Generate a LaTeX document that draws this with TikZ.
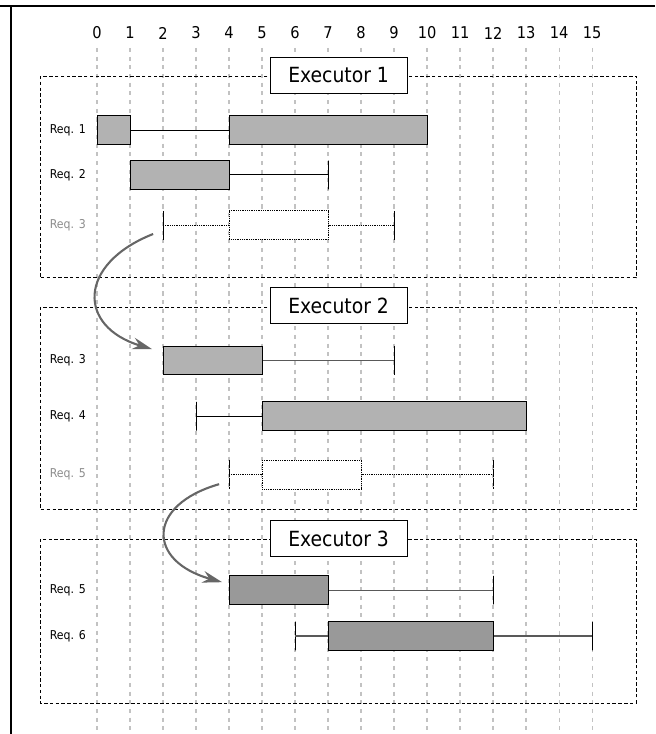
\documentclass[tikz,border=0pt]{standalone}
\usepackage{fontspec}
\setmainfont{DejaVu Sans Condensed}
\usetikzlibrary{arrows.meta}

\definecolor{barfill}{gray}{0.7}
\definecolor{barfilldark}{gray}{0.6}
\definecolor{gridgray}{gray}{0.76}
\definecolor{ghostgray}{gray}{0.55}
\definecolor{movegray}{gray}{0.4}

\begin{document}
\begin{tikzpicture}[x=1cm, y=-1cm,
gridline/.style={gridgray, line width=1pt, dash pattern=on 3.5pt off 4pt},
timelabel/.style={font=\fontsize{14}{16}\selectfont, inner sep=1pt},
execbox/.style={draw, line width=0.7pt, densely dashed},
execlabel/.style={draw, line width=0.7pt, fill=white, minimum width=4.15cm, minimum height=1.1cm, font=\fontsize{18}{20}\selectfont},
req/.style={anchor=east, font=\fontsize{10.5}{12}\selectfont, inner sep=1pt},
bar/.style={draw, line width=0.9pt, fill=barfill, anchor=west, minimum height=0.87cm, inner sep=0pt},
bardark/.style={bar, fill=barfilldark},
stop/.style={draw, line width=0.9pt, minimum width=0pt, minimum height=0.87cm, inner sep=0pt},
whisker/.style={line width=0.9pt},
ghost/.style={line width=0.55pt, densely dotted, fill=white},
move/.style={movegray, line width=1.8pt, -{Stealth[length=6mm, width=3.6mm, inset=2mm]}}
]
\useasboundingbox (-2.94,0) rectangle (16.91,22.24);

% frame
\draw[line width=2pt] (-2.94,0.18) -- (16.91,0.18);
\draw[line width=1.2pt] (-2.61,0.18) -- (-2.61,22.24);

% time grid
\foreach \t in {0,...,15} {
  \draw[gridline] (\t,1.45) -- (\t,22.12);
  \node[timelabel] (t\t) at (\t,1.0) {\t};
}

% executors
\draw[execbox] (-1.73,2.30) rectangle (16.33,8.42);
\draw[execbox] (-1.73,9.30) rectangle (16.33,15.42);
\draw[execbox] (-1.73,16.33) rectangle (16.33,21.30);
\node[execlabel] (ex1) at (7.32,2.28) {Executor 1};
\node[execlabel] (ex2) at (7.32,9.26) {Executor 2};
\node[execlabel] (ex3) at (7.32,16.32) {Executor 3};

% executor 1
\node[req] (a1) at (-0.3,3.94) {Req. 1};
\node[bar, minimum width=1cm] (a1x) at (0,3.94) {};
\node[bar, minimum width=6cm] (a1y) at (4,3.94) {};
\draw[whisker] (a1x.east) -- (a1y.west);

\node[req] (a2) at (-0.3,5.30) {Req. 2};
\node[bar, minimum width=3cm] (a2x) at (1,5.30) {};
\node[stop] (a2e) at (7,5.30) {};
\draw[whisker] (a2x.east) -- (a2e.center);

\node[req, ghostgray] (a3) at (-0.3,6.82) {Req. 3};
\node[stop, ghost] (a3s) at (2,6.82) {};
\node[bar, ghost, minimum width=3cm] (a3x) at (4,6.82) {};
\node[stop, ghost] (a3e) at (9,6.82) {};
\draw[whisker, ghost] (a3s.center) -- (a3x.west);
\draw[whisker, ghost] (a3x.east) -- (a3e.center);

% executor 2
\node[req] (b3) at (-0.3,10.92) {Req. 3};
\node[bar, minimum width=3cm] (b3x) at (2,10.92) {};
\node[stop] (b3e) at (9,10.92) {};
\draw[whisker, black!65] (b3x.east) -- (b3e.center);

\node[req] (b4) at (-0.3,12.61) {Req. 4};
\node[stop] (b4s) at (3,12.61) {};
\node[bar, minimum width=8cm] (b4x) at (5,12.61) {};
\draw[whisker] (b4s.center) -- (b4x.west);

\node[req, ghostgray] (b5) at (-0.3,14.38) {Req. 5};
\node[stop, ghost] (b5s) at (4,14.38) {};
\node[bar, ghost, minimum width=3cm] (b5x) at (5,14.38) {};
\node[stop, ghost] (b5e) at (12,14.38) {};
\draw[whisker, ghost] (b5s.center) -- (b5x.west);
\draw[whisker, ghost] (b5x.east) -- (b5e.center);

% executor 3
\node[req] (c5) at (-0.3,17.88) {Req. 5};
\node[bardark, minimum width=3cm] (c5x) at (4,17.88) {};
\node[stop] (c5e) at (12,17.88) {};
\draw[whisker, black!65] (c5x.east) -- (c5e.center);

\node[req] (c6) at (-0.3,19.27) {Req. 6};
\node[stop] (c6s) at (6,19.27) {};
\node[bardark, minimum width=5cm] (c6x) at (7,19.27) {};
\node[stop] (c6e) at (15,19.27) {};
\draw[whisker, black!65] (c6s.center) -- (c6x.west);
\draw[whisker, black!65] (c6x.east) -- (c6e.center);

% moved requests
\draw[move] ([shift={(-0.3,0.27)}]a3s.center) .. controls (-0.6,8.0) and (-0.6,9.9) .. ([shift={(-0.33,-0.34)}]b3x.west);
\draw[move] ([shift={(-0.3,0.29)}]b5s.center) .. controls (1.5,15.3) and (1.5,17.0) .. ([shift={(-0.21,-0.24)}]c5x.west);
\end{tikzpicture}
\end{document}
